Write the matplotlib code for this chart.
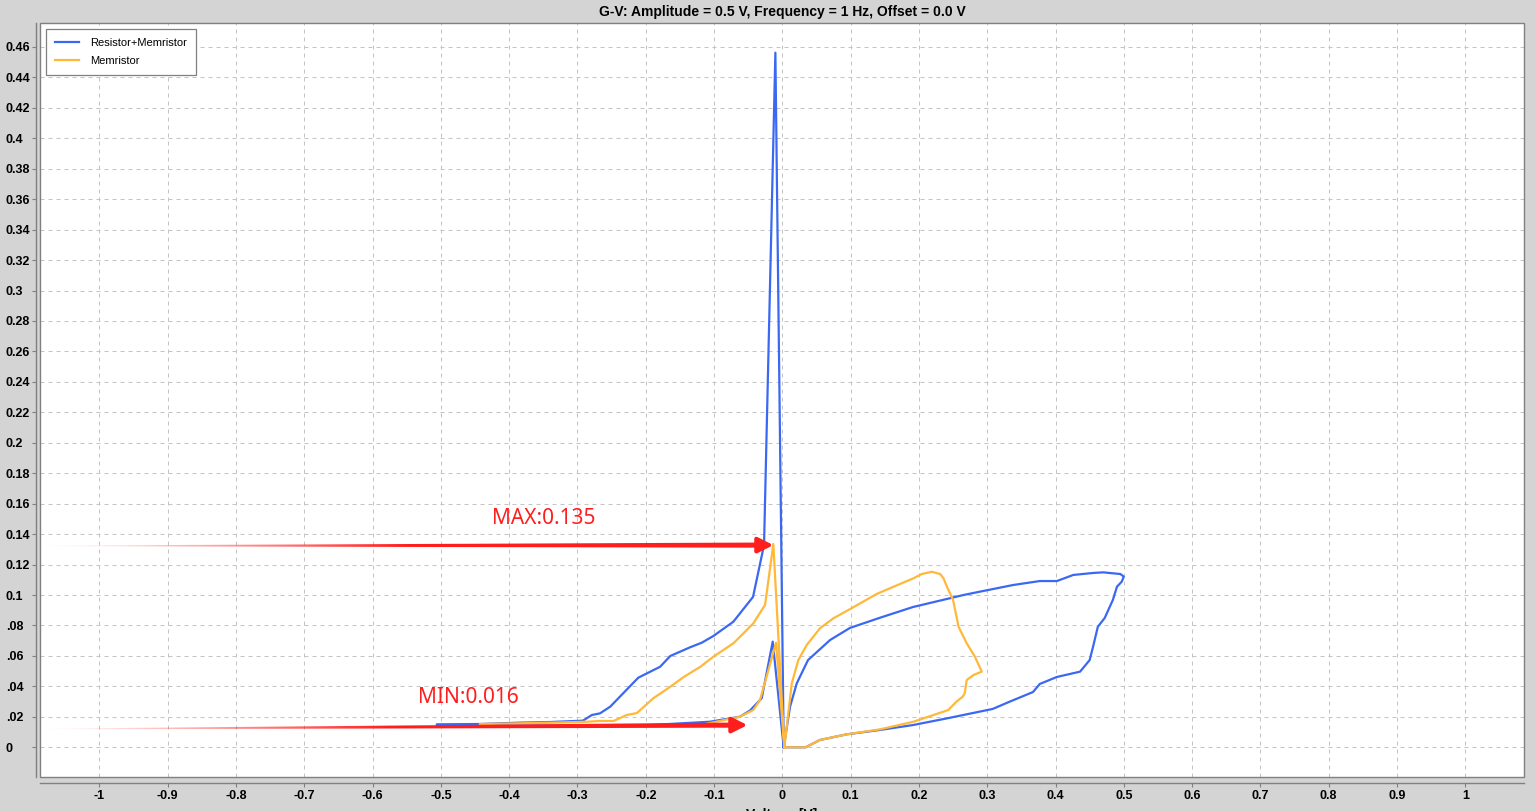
import matplotlib
matplotlib.use("Agg")
import matplotlib.pyplot as plt
import numpy as np
from matplotlib.patches import Polygon, Rectangle

# G-V curve, resistor + memristor in series (voltage, conductance)
rm_voltage = [
    0.002, 0.034, 0.055, 0.094, 0.143, 0.191, 0.241, 0.308, 0.333, 0.367, 0.377,
    0.402, 0.436, 0.450, 0.455, 0.462, 0.472, 0.484, 0.490, 0.497, 0.500, 0.495,
    0.470, 0.455, 0.426, 0.402, 0.377, 0.338, 0.289, 0.265, 0.191, 0.143, 0.099,
    0.070, 0.0376, 0.0211, 0.0113, 0.002,
    -0.0141, -0.0302, -0.0473, -0.062, -0.0766, -0.106, -0.194, -0.340, -0.443, -0.506,
    -0.506, -0.443, -0.384, -0.340, -0.292, -0.279, -0.267, -0.252, -0.233, -0.211,
    -0.179, -0.164, -0.135, -0.118, -0.101, -0.0717, -0.0429, -0.0268, -0.0102, 0.002,
]
rm_conductance = [
    0.0, 0.0, 0.0048, 0.0085, 0.0114, 0.0146, 0.0190, 0.0252, 0.0300, 0.0363, 0.0416,
    0.0462, 0.0497, 0.0573, 0.0661, 0.0792, 0.0849, 0.0968, 0.1055, 0.1088, 0.1121, 0.1138,
    0.1149, 0.1145, 0.1132, 0.1092, 0.1092, 0.1066, 0.1022, 0.1000, 0.0921, 0.0851, 0.0784,
    0.0705, 0.0573, 0.0420, 0.0267, 0.0,
    0.0694, 0.0322, 0.0242, 0.0201, 0.0190, 0.0168, 0.0146, 0.0143, 0.0143, 0.0146,
    0.0151, 0.0153, 0.0162, 0.0166, 0.0175, 0.0212, 0.0223, 0.0267, 0.0355, 0.0457,
    0.0529, 0.0600, 0.0657, 0.0687, 0.0731, 0.0825, 0.0988, 0.1329, 0.4562, 0.0,
]

# G-V curve, memristor only
m_voltage = [
    0.003, 0.0138, 0.0234, 0.0357, 0.0552, 0.0747, 0.104, 0.138, 0.163, 0.192, 0.204,
    0.219, 0.231, 0.236, 0.241, 0.250, 0.255, 0.258, 0.270, 0.282, 0.292, 0.280,
    0.270, 0.267, 0.264, 0.255, 0.243, 0.192, 0.143, 0.094, 0.055, 0.034, 0.003,
    -0.0092, -0.0327, -0.0425, -0.062, -0.120, -0.267, -0.443,
    -0.443, -0.355, -0.286, -0.267, -0.247, -0.228, -0.213, -0.189, -0.164, -0.145,
    -0.120, -0.101, -0.0717, -0.062, -0.0425, -0.0253, -0.0132, 0.003,
]
m_conductance = [
    0.0, 0.0420, 0.0573, 0.0672, 0.0782, 0.0847, 0.0920, 0.1007, 0.1055, 0.1110, 0.1138,
    0.1153, 0.1138, 0.1110, 0.1055, 0.0967, 0.0858, 0.0792, 0.0683, 0.0595, 0.0497, 0.0475,
    0.0442, 0.0355, 0.0332, 0.0300, 0.0245, 0.0168, 0.0118, 0.0085, 0.0048, 0.0, 0.0,
    0.0687, 0.0311, 0.0245, 0.0201, 0.0146, 0.0137, 0.0140,
    0.0153, 0.0160, 0.0168, 0.0173, 0.0173, 0.0212, 0.0225, 0.0322, 0.0398, 0.0460,
    0.0529, 0.0595, 0.0683, 0.0726, 0.0814, 0.0935, 0.1335, 0.0,
]

series_labels = ["Resistor+Memristor", "Memristor"]

x_ticks = [round(-1 + 0.1 * i, 1) for i in range(21)]
x_tick_labels = ["-1", "-0.9", "-0.8", "-0.7", "-0.6", "-0.5", "-0.4", "-0.3", "-0.2", "-0.1",
                 "0", "0.1", "0.2", "0.3", "0.4", "0.5", "0.6", "0.7", "0.8", "0.9", "1"]
y_ticks = [round(0.02 * i, 2) for i in range(24)]
y_tick_labels = ["0", ".02", ".04", ".06", ".08", "0.1", "0.12", "0.14", "0.16", "0.18",
                 "0.2", "0.22", "0.24", "0.26", "0.28", "0.3", "0.32", "0.34", "0.36",
                 "0.38", "0.4", "0.42", "0.44", "0.46"]

# hand-drawn annotations (start x, end x, start y, end y, text)
max_arrow = [-1.09, -0.013, 0.1323, 0.1328]
min_arrow = [-1.09, -0.051, 0.0120, 0.0146]
max_text = ["MAX:0.135", -0.349, 0.150]
min_text = ["MIN:0.016", -0.460, 0.0325]

BG = "#d4d4d4"
BLUE = "#3b68f2"
ORANGE = "#ffb838"
RED = "#ff1e1e"

plt.rcParams["font.family"] = ["Liberation Sans", "DejaVu Sans"]


def draw_arrow(ax, x0, x1, y0, y1):
    # tapered shaft with a gradient fading out to the left, then a solid head
    xe = x1 - 0.012
    w0, w1 = 0.0004, 0.0034
    shaft = Polygon([(x0, y0 - w0 / 2), (xe, y1 - w1 / 2), (xe, y1 + w1 / 2),
                     (x0, y0 + w0 / 2)], closed=True, facecolor="none",
                    edgecolor="none", transform=ax.transData)
    ax.add_patch(shaft)
    t = np.linspace(0, 1, 256)
    grad = np.zeros((1, 256, 4))
    grad[..., 0] = 1.0
    grad[..., 1] = 0.12
    grad[..., 2] = 0.12
    grad[..., 3] = np.clip(t * 2.0, 0, 1) ** 1.2
    im = ax.imshow(grad, extent=[x0, xe, min(y0, y1) - w1, max(y0, y1) + w1],
                   aspect="auto", interpolation="bilinear", zorder=6, origin="lower")
    im.set_clip_path(shaft)
    ax.annotate("", xy=(x1, y1), xytext=(x1 - 0.02, y1),
                arrowprops=dict(arrowstyle="-|>,head_length=0.9,head_width=0.45",
                                color=RED, lw=3.0, shrinkA=0, shrinkB=0),
                zorder=7)


fig = plt.figure(figsize=(15.35, 8.11), dpi=100, facecolor=BG)
ax = fig.add_axes([40 / 1535, 34 / 811, 1484 / 1535, 754 / 811])
ax.set_facecolor("white")

ax.plot(rm_voltage, rm_conductance, color=BLUE, lw=1.6, label=series_labels[0], zorder=3)
ax.plot(m_voltage, m_conductance, color=ORANGE, lw=1.6, label=series_labels[1], zorder=4)

draw_arrow(ax, *max_arrow)
draw_arrow(ax, *min_arrow)
ax.text(max_text[1], max_text[2], max_text[0], color=RED, fontsize=15,
        family=["Noto Sans", "DejaVu Sans"], ha="center", va="center", zorder=8)
ax.text(min_text[1], min_text[2], min_text[0], color=RED, fontsize=15,
        family=["Noto Sans", "DejaVu Sans"], ha="center", va="center", zorder=8)

ax.set_aspect("auto")
ax.set_xlim(-1.087, 1.086)
ax.set_ylim(-0.0195, 0.4757)

ax.grid(True, color="#c4c4c4", lw=0.72, linestyle=(0, (4, 4)))
ax.set_axisbelow(True)

for side in ["top", "right"]:
    ax.spines[side].set_visible(False)
ax.spines["left"].set_position(("outward", 2.9))
ax.spines["bottom"].set_position(("outward", 4.3))
for side in ["left", "bottom"]:
    ax.spines[side].set_color("#808080")
    ax.spines[side].set_linewidth(1.0)
ax.add_patch(Rectangle((0, 0), 1, 1, transform=ax.transAxes, fill=False,
                       edgecolor="#808080", lw=1.0, clip_on=False, zorder=9))
ax.tick_params(axis="x", length=2.9, width=0.8, color="#808080", pad=2)
ax.tick_params(axis="y", length=2.9, width=0.8, color="#808080", pad=18.7)

# labels after tick_params so the styling sticks
ax.set_xticks(x_ticks)
ax.set_xticklabels(x_tick_labels, fontweight="bold", fontsize=9)
ax.set_yticks(y_ticks)
ax.set_yticklabels(y_tick_labels, fontweight="bold", fontsize=9)
for lbl in ax.get_yticklabels():
    lbl.set_horizontalalignment("left")

ax.set_title("G-V: Amplitude = 0.5 V, Frequency = 1 Hz, Offset = 0.0 V",
             fontweight="bold", fontsize=10, pad=5)
fig.text(782 / 1535, 3 / 811, "Voltage [V]", fontweight="bold", fontsize=10,
         ha="center", va="top")

leg = ax.legend(loc="upper left", fontsize=8, frameon=True, fancybox=False,
                edgecolor="#808080", framealpha=1, borderaxespad=0.55,
                handlelength=2.2, handletextpad=1.0, labelspacing=0.7, borderpad=0.8)
leg.get_frame().set_linewidth(0.9)

fig.savefig("out.png", dpi=100, facecolor=BG)
